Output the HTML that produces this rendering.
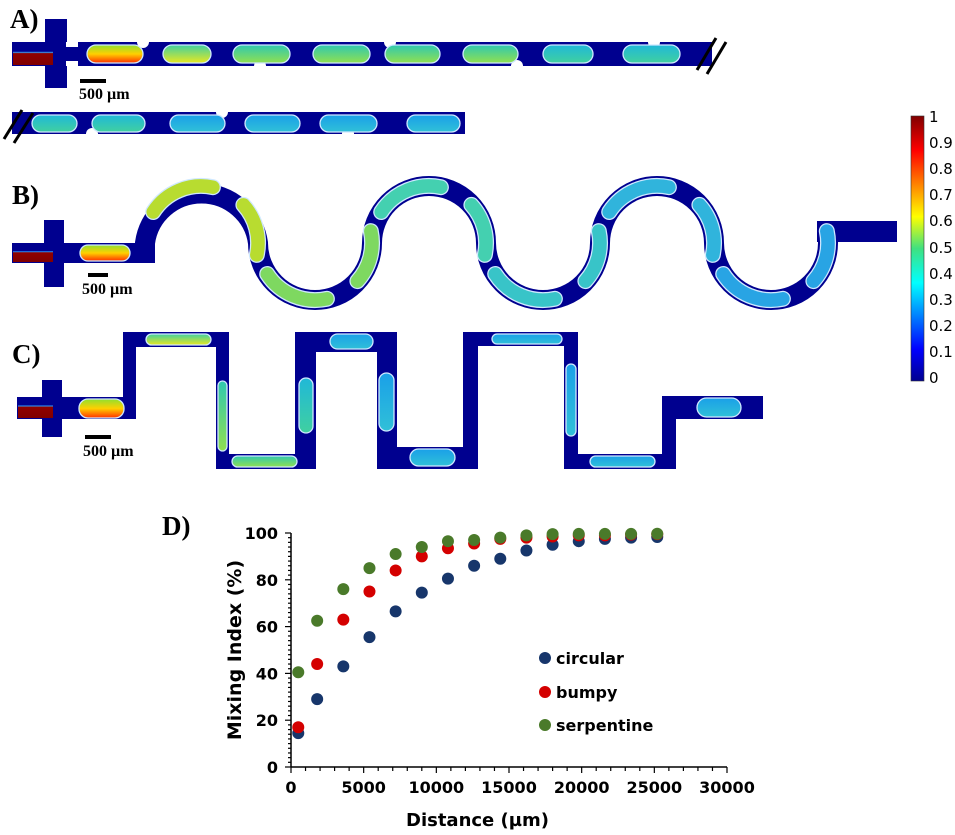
<!DOCTYPE html>
<html><head><meta charset="utf-8"><style>
html,body{margin:0;padding:0;background:#fff;}
svg{display:block;}
.lab{font-family:"Liberation Serif",serif;font-weight:bold;}
.ax{font-family:"DejaVu Sans","Liberation Sans",sans-serif;font-weight:bold;}
</style></head><body>
<svg id="s" width="955" height="835" viewBox="0 0 955 835" xmlns="http://www.w3.org/2000/svg">
<defs>
<linearGradient id="jet" x1="0" y1="1" x2="0" y2="0">
<stop offset="0" stop-color="#00008f"/><stop offset="0.12" stop-color="#0000ff"/>
<stop offset="0.37" stop-color="#00ffff" /><stop offset="0.5" stop-color="#40e080"/>
<stop offset="0.62" stop-color="#ffff00"/><stop offset="0.87" stop-color="#ff0000"/>
<stop offset="1" stop-color="#800000"/></linearGradient>
<linearGradient id="d1" x1="0" y1="0" x2="0" y2="1"><stop offset="0" stop-color="#8fe030"/><stop offset="0.5" stop-color="#ffd000"/><stop offset="1" stop-color="#ff3000"/></linearGradient>
<linearGradient id="d2" x1="0" y1="0" x2="0" y2="1"><stop offset="0" stop-color="#40d0a0"/><stop offset="1" stop-color="#e8e820"/></linearGradient>
<linearGradient id="d3" x1="0" y1="0" x2="0" y2="1"><stop offset="0" stop-color="#30c8b0"/><stop offset="1" stop-color="#90e050"/></linearGradient>
<linearGradient id="d4" x1="0" y1="0" x2="0" y2="1"><stop offset="0" stop-color="#20b8d8"/><stop offset="1" stop-color="#40d0a0"/></linearGradient>
<linearGradient id="d5" x1="0" y1="0" x2="0" y2="1"><stop offset="0" stop-color="#1aa0e8"/><stop offset="1" stop-color="#30c0d8"/></linearGradient>
<linearGradient id="red" x1="0" y1="0" x2="0" y2="1"><stop offset="0" stop-color="#00008f"/><stop offset="0.35" stop-color="#00008f"/><stop offset="0.4" stop-color="#30a0ff"/><stop offset="0.45" stop-color="#900000"/><stop offset="1" stop-color="#800000"/></linearGradient>
</defs>
<g fill="#00008f">
<rect x="45" y="19" width="22" height="69"/>
<rect x="12" y="42" width="700" height="24"/>
<rect x="12" y="112" width="453" height="22"/>
</g>
<rect x="13" y="44" width="40" height="21" fill="url(#red)"/>
<g fill="#fff">
<circle cx="143" cy="42" r="6"/><circle cx="260" cy="66" r="6"/><circle cx="390" cy="42" r="6"/><circle cx="517" cy="66" r="6"/><circle cx="654" cy="42" r="6"/>
<circle cx="92" cy="134" r="6"/><circle cx="222" cy="112" r="6"/><circle cx="348" cy="134" r="6"/>
<rect x="66" y="42" width="12" height="5"/><rect x="66" y="61" width="12" height="5"/>
</g>
<g stroke="#cfe8ff" stroke-width="1.3">
<rect x="87" y="45" width="56" height="18" rx="9" fill="url(#d1)"/>
<rect x="163" y="45" width="48" height="18" rx="9" fill="url(#d2)"/>
<rect x="233" y="45" width="57" height="18" rx="9" fill="url(#d3)"/>
<rect x="313" y="45" width="57" height="18" rx="9" fill="url(#d3)"/>
<rect x="385" y="45" width="55" height="18" rx="9" fill="url(#d3)"/>
<rect x="463" y="45" width="55" height="18" rx="9" fill="url(#d3)"/>
<rect x="543" y="45" width="50" height="18" rx="9" fill="url(#d4)"/>
<rect x="623" y="45" width="57" height="18" rx="9" fill="url(#d4)"/>
<rect x="32" y="115" width="45" height="17" rx="8.5" fill="url(#d4)"/>
<rect x="92" y="115" width="53" height="17" rx="8.5" fill="url(#d4)"/>
<rect x="170" y="115" width="55" height="17" rx="8.5" fill="url(#d5)"/>
<rect x="245" y="115" width="55" height="17" rx="8.5" fill="url(#d5)"/>
<rect x="320" y="115" width="57" height="17" rx="8.5" fill="url(#d5)"/>
<rect x="407" y="115" width="53" height="17" rx="8.5" fill="url(#d5)"/>
</g>
<g stroke="#000" stroke-width="3">
<line x1="697" y1="70" x2="716" y2="38"/><line x1="707" y1="74" x2="726" y2="42"/>
<line x1="4" y1="139" x2="22" y2="110"/><line x1="14" y1="143" x2="33" y2="113"/>
</g>
<rect x="80" y="79" width="26" height="4" fill="#000"/>
<text class="lab" x="79" y="99" font-size="16">500 µm</text>
<text class="lab" x="10" y="28" font-size="27">A)</text>

<g fill="#00008f">
<rect x="44" y="220" width="20" height="67"/>
<rect x="12" y="243" width="143" height="20"/>
<rect x="817" y="221" width="80" height="21"/>
</g>
<path fill="none" stroke="#00008f" stroke-width="20" d="M145 253 L145 243 A57 57 0 0 1 258 243 A57 57 0 0 0 372 243 A57 57 0 0 1 486 243 A57 57 0 0 0 600 243 A57 57 0 0 1 714 243 A57 57 0 0 0 828 243 L828 232"/>
<rect x="13" y="245" width="40" height="17" fill="url(#red)"/>
<rect x="80" y="245" width="50" height="16" rx="8" fill="url(#d1)" stroke="#cfe8ff" stroke-width="1.3"/>
<g id="bdrops"></g>
<rect x="88" y="273" width="20" height="4" fill="#000"/>
<text class="lab" x="82" y="294" font-size="16">500 µm</text>
<text class="lab" x="12" y="204" font-size="27">B)</text>

<g fill="#00008f">
<rect x="42" y="380" width="20" height="57"/>
<rect x="17" y="397" width="119" height="22"/>
<rect x="123" y="332" width="13" height="87"/>
<rect x="123" y="332" width="106" height="15"/>
<rect x="216" y="332" width="13" height="137"/>
<rect x="216" y="454" width="100" height="15"/>
<rect x="295" y="332" width="21" height="137"/>
<rect x="295" y="332" width="102" height="20"/>
<rect x="377" y="332" width="20" height="137"/>
<rect x="377" y="447" width="101" height="22"/>
<rect x="463" y="332" width="15" height="137"/>
<rect x="463" y="332" width="115" height="14"/>
<rect x="564" y="332" width="14" height="137"/>
<rect x="564" y="454" width="112" height="15"/>
<rect x="662" y="396" width="14" height="73"/>
<rect x="662" y="396" width="101" height="23"/>
</g>
<rect x="18" y="398" width="35" height="20" fill="url(#red)"/>
<g stroke="#cfe8ff" stroke-width="1.3">
<rect x="79" y="399" width="45" height="19" rx="9" fill="url(#d1)"/>
<rect x="146" y="334" width="65" height="11" rx="5.5" fill="url(#d2)"/>
<rect x="218" y="381" width="9" height="70" rx="4.5" fill="url(#d3)"/>
<rect x="232" y="456" width="65" height="11" rx="5.5" fill="url(#d3)"/>
<rect x="299" y="378" width="14" height="55" rx="7" fill="url(#d4)"/>
<rect x="330" y="334" width="43" height="15" rx="7.5" fill="url(#d5)"/>
<rect x="379" y="373" width="15" height="58" rx="7.5" fill="url(#d5)"/>
<rect x="410" y="449" width="45" height="17" rx="8.5" fill="url(#d5)"/>
<rect x="492" y="334" width="70" height="10" rx="5" fill="url(#d5)"/>
<rect x="566" y="364" width="10" height="72" rx="5" fill="url(#d5)"/>
<rect x="590" y="456" width="65" height="11" rx="5.5" fill="url(#d5)"/>
<rect x="697" y="398" width="44" height="19" rx="9.5" fill="url(#d5)"/>
</g>
<rect x="85" y="435" width="26" height="4" fill="#000"/>
<text class="lab" x="83" y="456" font-size="16">500 µm</text>
<text class="lab" x="12" y="363" font-size="27">C)</text>

<rect x="911" y="116" width="13" height="265" fill="url(#jet)" stroke="#333" stroke-width="0.6"/>
<g font-family="DejaVu Sans, sans-serif" font-size="15" fill="#000">
<text x="929" y="122">1</text><text x="929" y="148">0.9</text><text x="929" y="174">0.8</text><text x="929" y="200">0.7</text><text x="929" y="226">0.6</text><text x="929" y="253">0.5</text><text x="929" y="279">0.4</text><text x="929" y="305">0.3</text><text x="929" y="331">0.2</text><text x="929" y="357">0.1</text><text x="929" y="383">0</text>
</g>

<text class="lab" x="162" y="535" font-size="27">D)</text>
<g id="chart"></g>
<g class="ax" font-size="16" fill="#000">
<text x="556" y="664">circular</text><text x="556" y="698">bumpy</text><text x="556" y="731">serpentine</text>
<text x="406" y="826" font-size="18">Distance (µm)</text>
<text transform="translate(241,650) rotate(-90)" text-anchor="middle" font-size="19">Mixing Index (%)</text>
</g>
<circle cx="545" cy="658" r="6" fill="#17366b"/><circle cx="545" cy="692" r="6" fill="#d40000"/><circle cx="545" cy="725" r="6" fill="#4a7a2a"/>
</svg>
<script>
var NS="http://www.w3.org/2000/svg",s=document.getElementById('s');
function el(t,a,p){var e=document.createElementNS(NS,t);for(var k in a)e.setAttribute(k,a[k]);(p||s).appendChild(e);return e;}
var bd=document.getElementById('bdrops');
var arcs=[[201,1],[315,-1],[429,1],[543,-1],[657,1],[771,-1]];
var cols=["#b8dc30","#7ed860","#44d0b0","#38c4c8","#30b4dc","#28a4e4"];
arcs.forEach(function(a,i){
 var cx=a[0],cy=243,r=57,dir=a[1];
 [[213,282],[318,372]].forEach(function(rg){
  var f=function(d){var t=d*Math.PI/180;var x=cx+r*Math.cos(t),y=cy+dir*r*Math.sin(t);return x.toFixed(1)+" "+y.toFixed(1);};
  var d="M"+f(rg[0])+" A57 57 0 0 "+(dir>0?1:0)+" "+f(rg[1]);
  el('path',{d:d,fill:'none',stroke:'#cfe8ff','stroke-width':16,'stroke-linecap':'round'},bd);
  el('path',{d:d,fill:'none',stroke:cols[i],'stroke-width':13.5,'stroke-linecap':'round'},bd);
 });
});
var g=document.getElementById('chart');
var X=function(v){return 291+v*436/30000},Y=function(v){return 767-v*2.34};
el('line',{x1:291,y1:533,x2:291,y2:767,stroke:'#000','stroke-width':1.5},g);
el('line',{x1:291,y1:767,x2:727,y2:767,stroke:'#000','stroke-width':1.5},g);
for(var i=0;i<=50;i++){var y=Y(i*2);el('line',{x1:291,y1:y,x2:i%10==0?285:288,y2:y,stroke:'#000','stroke-width':1.2},g);}
for(var i=0;i<=30;i++){var x=X(i*1000);el('line',{x1:x,y1:767,x2:x,y2:i%5==0?773:771,stroke:'#000','stroke-width':1.2},g);}
for(var i=0;i<=5;i++){var t=el('text',{x:278,y:Y(i*20)+6,'text-anchor':'end','font-size':16,'class':'ax'},g);t.textContent=i*20;}
for(var i=0;i<=6;i++){var t=el('text',{x:X(i*5000),y:793,'text-anchor':'middle','font-size':16,'class':'ax'},g);t.textContent=i*5000;}
var xs=[500,1800,3600,5400,7200,9000,10800,12600,14400,16200,18000,19800,21600,23400,25200];
var circ=[14.5,29,43,55.5,66.5,74.5,80.5,86,89,92.5,95,96.5,97.5,98,98.3];
var bump=[17,44,63,75,84,90,93.5,95.5,97.5,98,98.5,99,99,99.3,99.5];
var serp=[40.5,62.5,76,85,91,94,96.5,97,98,99,99.5,99.6,99.6,99.6,99.7];
[[circ,'#17366b'],[bump,'#d40000'],[serp,'#4a7a2a']].forEach(function(s2){
 s2[0].forEach(function(v,i){el('circle',{cx:X(xs[i]),cy:Y(v),r:6,fill:s2[1]},g);});
});
</script>
</body></html>
